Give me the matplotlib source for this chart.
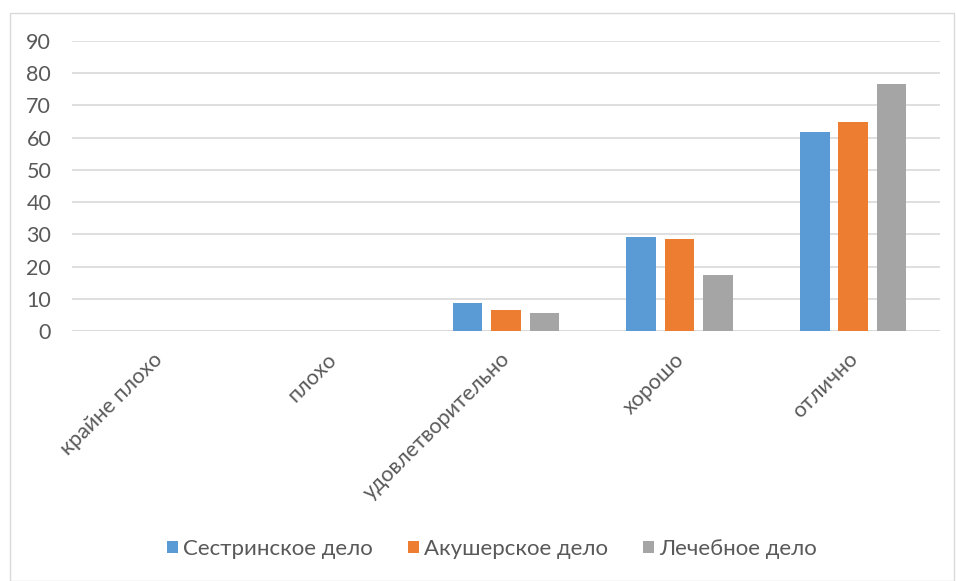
import matplotlib
matplotlib.use("Agg")
import matplotlib.pyplot as plt
import matplotlib.transforms as mtransforms
from matplotlib.patches import Rectangle
import numpy as np

categories = ["крайне плохо", "плохо", "удовлетворительно", "хорошо", "отлично"]
series_names = ["Сестринское дело", "Акушерское дело", "Лечебное дело"]
sestr = [0, 0, 8.7, 29.3, 61.8]
akush = [0, 0, 6.4, 28.5, 64.8]
lech = [0, 0, 5.5, 17.4, 76.7]
colors = ["#5B9BD5", "#ED7D31", "#A5A5A5"]
yticks = [0, 10, 20, 30, 40, 50, 60, 70, 80, 90]

plt.rcParams['font.family'] = ['Lato', 'DejaVu Sans']

fig = plt.figure(figsize=(9.56, 5.81), dpi=100)
ax = fig.add_axes([72/956, 1-331/581, (940-72)/956, (331-41)/581])

x = np.arange(len(categories))
w = 0.17
pitch = 0.221
for i, (vals, name, c) in enumerate(zip([sestr, akush, lech], series_names, colors)):
    ax.bar(x + (i-1)*pitch, vals, width=w, color=c, label=name, zorder=3)

ax.set_xlim(-0.5, len(categories)-0.5)
ax.set_ylim(0, 90)
ax.set_yticks(yticks)
ax.set_yticklabels([str(t) for t in yticks], fontsize=15.5, color="#595959")
ax.yaxis.grid(True, color="#D9D9D9", linewidth=1.2, zorder=0)
ax.tick_params(axis='y', length=0, pad=15)
ax.tick_params(axis='x', length=0, pad=13)
ax.set_xticks(x)
ax.set_xticklabels(categories, rotation=45, ha='right', rotation_mode='anchor',
                   fontsize=15.5, color="#595959")
offset = mtransforms.ScaledTranslation(-6/100, 0, fig.dpi_scale_trans)
for lbl in ax.get_xticklabels():
    lbl.set_transform(lbl.get_transform() + offset)
for s in ax.spines.values():
    s.set_visible(False)
ax.axhline(0, color="#D9D9D9", linewidth=1.2, zorder=2)

leg = fig.legend(loc='center', bbox_to_anchor=(492/956, 1-549/581), ncol=3, frameon=False,
                 fontsize=16, handlelength=0.5, handleheight=0.5, handletextpad=0.2,
                 columnspacing=1.6)
for t in leg.get_texts():
    t.set_color("#595959")

fig.patches.append(Rectangle((10/956, 0.5/581), (954-10)/956, (581-13)/581,
                             transform=fig.transFigure, fill=False,
                             edgecolor="#D9D9D9", linewidth=1.0))

fig.savefig("out.png", dpi=100)
